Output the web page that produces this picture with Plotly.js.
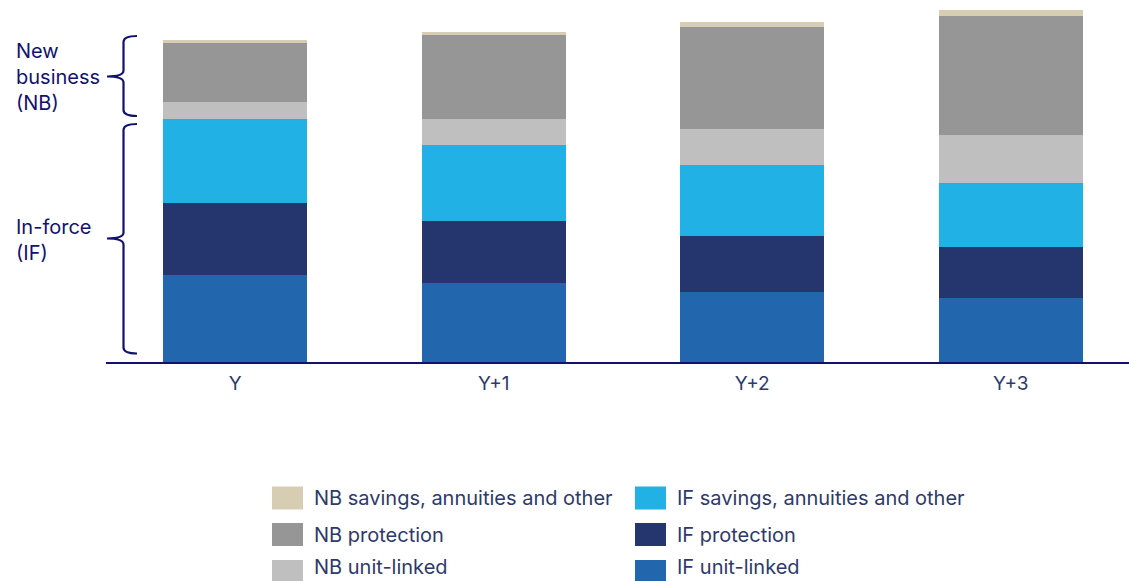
<!DOCTYPE html>
<html>
<head>
<meta charset="utf-8">
<script src="https://cdn.plot.ly/plotly-3.0.1.min.js"></script>
<style>html,body{margin:0;padding:0;background:#fff;}#chart{width:1129px;height:581px;}</style>
</head>
<body>
<div id="chart"></div>
<script>
// ---- data ----
const categories = ["Y", "Y+1", "Y+2", "Y+3"];
const ifUnitLinked   = [86.7, 79.0, 69.7, 63.7];
const ifProtection   = [72.6, 61.7, 56.0, 51.6];
const ifSavings      = [83.7, 76.6, 71.0, 64.0];
const nbUnitLinked   = [17.0, 26.0, 36.0, 47.7];
const nbProtection   = [59.0, 84.0, 102.6, 119.3];
const nbSavings      = [2.7, 3.0, 4.7, 6.0];
const seriesNames = ["IF unit-linked", "IF protection", "IF savings, annuities and other",
                     "NB unit-linked", "NB protection", "NB savings, annuities and other"];
const groupLabels = ["New<br>business<br>(NB)", "In-force<br>(IF)"];

// ---- styling ----
const colors = ["#2266ad", "#25356e", "#21b1e4", "#bfbfbf", "#969696", "#d6cdb3"];
const seriesValues = [ifUnitLinked, ifProtection, ifSavings, nbUnitLinked, nbProtection, nbSavings];
const W = 1129, H = 581;
const M = {l: 106, r: 0, t: 0, b: 219};
const PW = W - M.l - M.r, PH = H - M.t - M.b;
const FONT = "Inter, 'Open Sans', sans-serif";
const TXT = "#2d3a6b";
const NAVY = "#12126e";

const px = x => (x - M.l) / PW;
const py = y => (H - M.b - y) / PH;

const traces = seriesValues.map((vals, i) => ({
  type: "bar",
  x: categories,
  y: vals,
  name: seriesNames[i],
  marker: {color: colors[i], line: {width: 0}},
  hoverinfo: "x+y+name",
  showlegend: false
}));

function brace(spineX, armX, tipX, top, bottom, tipY) {
  const r = 6;
  const P = (x, y) => px(x).toFixed(5) + "," + py(y).toFixed(5);
  return "M" + P(armX, top) +
    " Q" + P(spineX, top) + " " + P(spineX, top + r) +
    " L" + P(spineX, tipY - r) +
    " Q" + P(spineX, tipY) + " " + P(tipX, tipY) +
    " Q" + P(spineX, tipY) + " " + P(spineX, tipY + r) +
    " L" + P(spineX, bottom - r) +
    " Q" + P(spineX, bottom) + " " + P(armX, bottom);
}

const shapes = [
  {type: "path", xref: "paper", yref: "paper", path: brace(123.5, 137, 107, 36, 116, 76.5),
   line: {color: NAVY, width: 2.2}},
  {type: "path", xref: "paper", yref: "paper", path: brace(123.5, 137, 107, 124, 353.5, 238.5),
   line: {color: NAVY, width: 2.2}}
];

const annotations = [
  {xref: "paper", yref: "paper", x: px(14), y: py(77), xanchor: "left", yanchor: "middle",
   text: groupLabels[0], showarrow: false, align: "left", font: {family: FONT, size: 20, color: NAVY}},
  {xref: "paper", yref: "paper", x: px(14), y: py(240), xanchor: "left", yanchor: "middle",
   text: groupLabels[1], showarrow: false, align: "left", font: {family: FONT, size: 20, color: NAVY}}
];

// custom legend: two columns (NB left, IF right), rows savings / protection / unit-linked
const legendCols = [[5, 4, 3], [2, 1, 0]];
const colSwatchX = [272, 635];
const rowY = [498, 534.5, 571.5];
const rowTextY = [498, 534.5, 567];
legendCols.forEach((col, c) => {
  col.forEach((si, r) => {
    shapes.push({type: "rect", xref: "paper", yref: "paper",
      x0: px(colSwatchX[c]), x1: px(colSwatchX[c] + 31),
      y0: py(rowY[r] - 11.5), y1: py(rowY[r] + 11.5),
      fillcolor: colors[si], line: {width: 0}});
    annotations.push({xref: "paper", yref: "paper", x: px(colSwatchX[c] + 40), y: py(rowTextY[r]),
      xanchor: "left", yanchor: "middle", showarrow: false, text: seriesNames[si],
      font: {family: FONT, size: 20, color: TXT}});
  });
});

const layout = {
  width: W, height: H,
  margin: M,
  barmode: "stack",
  bargap: 0.443,
  paper_bgcolor: "#ffffff",
  plot_bgcolor: "#ffffff",
  showlegend: false,
  font: {family: FONT, size: 19, color: TXT},
  xaxis: {
    range: [-0.5, -0.5 + PW / 258.5],
    showline: true, linecolor: NAVY, linewidth: 2,
    showgrid: false, zeroline: false, ticks: "",
    ticklabelstandoff: 3,
    tickfont: {family: FONT, size: 19, color: TXT},
    fixedrange: true
  },
  yaxis: {
    range: [0, PH],
    visible: false, showgrid: false, zeroline: false, fixedrange: true
  },
  shapes: shapes,
  annotations: annotations
};

Plotly.newPlot("chart", traces, layout, {displayModeBar: false, staticPlot: true});
</script>
</body>
</html>
